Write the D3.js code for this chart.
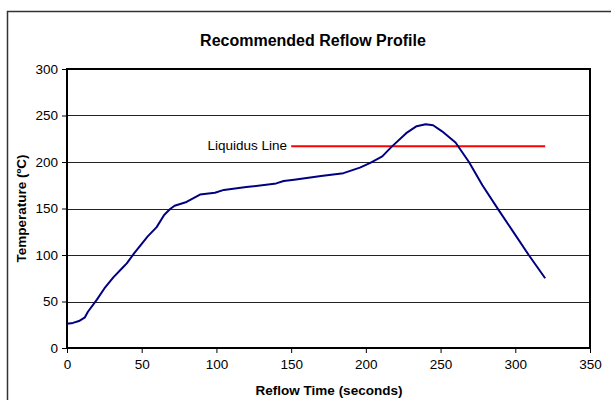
<!DOCTYPE html>
<html>
<head>
<meta charset="utf-8">
<script src="https://cdn.jsdelivr.net/npm/d3@7"></script>
<style>
  html, body { margin: 0; padding: 0; background: #fff; }
  svg { display: block; font-family: "Liberation Sans", Arial, sans-serif; }
</style>
</head>
<body>
<div id="chart"></div>
<script>
// Reflow profile
const profileTime = [0, 4, 8, 12, 14, 20, 25, 31, 37, 40, 45, 50, 54, 60, 65, 69, 72, 80, 89,
  99, 105, 120, 140, 145, 152, 170, 185, 196, 203, 211, 217, 227, 234, 240, 245, 251, 260,
  269, 278, 289, 299, 309, 320];
const profileTemp = [26, 27, 29, 33, 39, 52, 64, 76, 86, 91, 102, 112, 120, 130, 143, 149.5,
  153, 157, 165, 167, 170, 173, 177, 179.5, 181, 185, 188, 194, 199, 206, 216, 231, 238.5,
  240.5, 239.5, 233, 221, 200, 175, 148, 124, 100, 75];

const liquidusTime = [150, 170, 190, 210, 230, 250, 270, 290, 310, 320];
const liquidusTemp = [217, 217, 217, 217, 217, 217, 217, 217, 217, 217];

const xTicks = [0, 50, 100, 150, 200, 250, 300, 350];
const yTicks = [0, 50, 100, 150, 200, 250, 300];

const W = 611, H = 400;
const plot = { left: 67, right: 590, top: 69, bottom: 348 };
const labelFont = "13.5px";

const svg = d3.select("#chart").append("svg")
  .attr("width", W)
  .attr("height", H);

// outer chart border (runs off the right and bottom edges)
svg.append("rect")
  .attr("x", 7.5).attr("y", 11.5)
  .attr("width", W).attr("height", H)
  .attr("fill", "none")
  .attr("stroke", "#333")
  .attr("stroke-width", 1.5);

const x = d3.scaleLinear().domain([0, 350]).range([plot.left, plot.right]);
const y = d3.scaleLinear().domain([0, 300]).range([plot.bottom, plot.top]);

// horizontal gridlines
svg.append("g")
  .selectAll("line")
  .data(yTicks.filter(d => d > 0 && d < 300))
  .join("line")
  .attr("x1", plot.left).attr("x2", plot.right)
  .attr("y1", d => Math.round(y(d)) + 0.5)
  .attr("y2", d => Math.round(y(d)) + 0.5)
  .attr("stroke", "#222")
  .attr("stroke-width", 1);

// plot frame
svg.append("rect")
  .attr("x", plot.left).attr("y", plot.top)
  .attr("width", plot.right - plot.left)
  .attr("height", plot.bottom - plot.top)
  .attr("fill", "none")
  .attr("stroke", "#000")
  .attr("stroke-width", 2);

// axes
const xAxis = svg.append("g")
  .attr("transform", `translate(0,${plot.bottom})`)
  .call(d3.axisBottom(x).tickValues(xTicks).tickSize(5).tickPadding(6).tickSizeOuter(0));
const yAxis = svg.append("g")
  .attr("transform", `translate(${plot.left},0)`)
  .call(d3.axisLeft(y).tickValues(yTicks).tickSize(5).tickPadding(4).tickSizeOuter(0));

[xAxis, yAxis].forEach(g => {
  g.select(".domain").remove();
  g.selectAll(".tick line").attr("stroke", "#000").attr("stroke-width", 1);
  g.selectAll(".tick text")
    .attr("fill", "#000")
    .style("font-size", labelFont)
    .style("font-family", "'Liberation Sans', Arial, sans-serif");
});

// liquidus line
const line = d3.line()
  .x(d => x(d[0]))
  .y(d => y(d[1]));

svg.append("path")
  .datum(liquidusTime.map((t, i) => [t, liquidusTemp[i]]))
  .attr("d", line)
  .attr("fill", "none")
  .attr("stroke", "#ff0000")
  .attr("stroke-width", 2);

svg.append("text")
  .attr("x", x(liquidusTime[0]) - 4)
  .attr("y", y(liquidusTemp[0]) + 4)
  .attr("text-anchor", "end")
  .style("font-size", labelFont)
  .text("Liquidus Line");

// reflow profile curve
svg.append("path")
  .datum(profileTime.map((t, i) => [t, profileTemp[i]]))
  .attr("d", line)
  .attr("fill", "none")
  .attr("stroke", "#000080")
  .attr("stroke-width", 2)
  .attr("stroke-linejoin", "round");

// titles
svg.append("text")
  .attr("x", 313).attr("y", 46)
  .attr("text-anchor", "middle")
  .style("font-size", "16px")
  .style("font-weight", "bold")
  .text("Recommended Reflow Profile");

svg.append("text")
  .attr("x", 329).attr("y", 395)
  .attr("text-anchor", "middle")
  .style("font-size", labelFont)
  .style("font-weight", "bold")
  .text("Reflow Time (seconds)");

svg.append("text")
  .attr("transform", `translate(26,${(plot.top + plot.bottom) / 2}) rotate(-90)`)
  .attr("text-anchor", "middle")
  .style("font-size", labelFont)
  .style("font-weight", "bold")
  .text("Temperature (ºC)");
</script>
</body>
</html>
